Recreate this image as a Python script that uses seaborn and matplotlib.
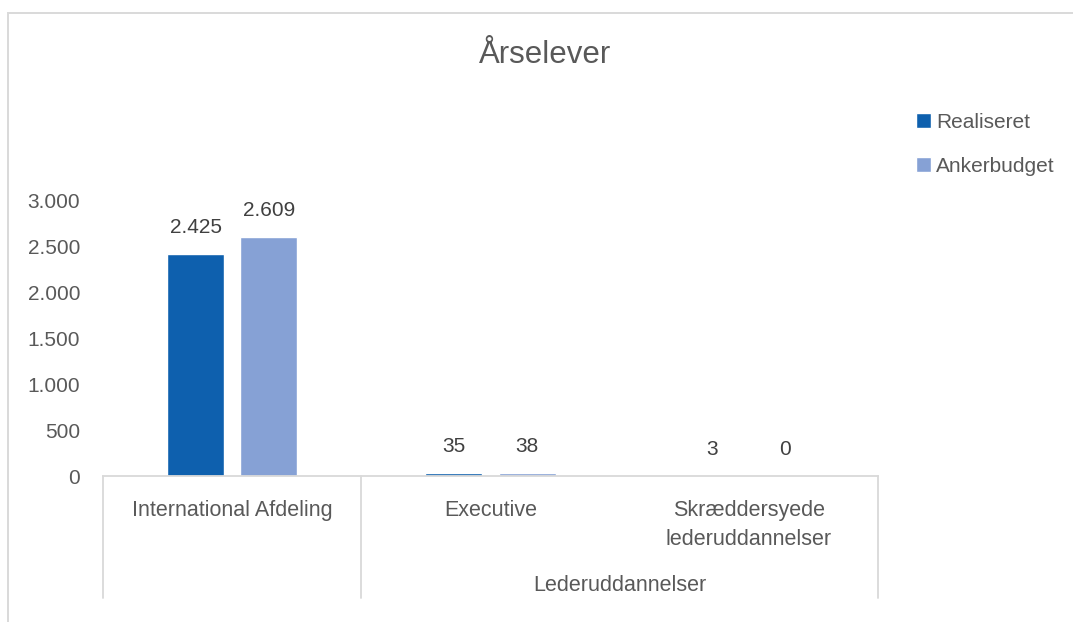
import matplotlib
matplotlib.use("Agg")
import matplotlib.pyplot as plt
import matplotlib.transforms as mtransforms
from matplotlib.patches import Rectangle
from matplotlib.ticker import FuncFormatter
import seaborn as sns
import pandas as pd

# ---------------- data ----------------
title = "Årselever"
categories = ["International Afdeling", "Executive", "Skræddersyede\nlederuddannelser"]
group_label = "Lederuddannelser"          # spans the last two categories
series = ["Realiseret", "Ankerbudget"]
realiseret = [2425, 35, 3]
ankerbudget = [2609, 38, 0]
y_ticks = [0, 500, 1000, 1500, 2000, 2500, 3000]
colors = ["#0E60AE", "#86A1D5"]

df = pd.DataFrame({
    "Kategori": categories * 2,
    "Serie": [series[0]] * len(categories) + [series[1]] * len(categories),
    "Værdi": realiseret + ankerbudget,
})


def dk(v):
    return f"{int(round(v)):,}".replace(",", ".")


sns.set_theme(style="white")
plt.rcParams["font.family"] = ["Liberation Sans", "DejaVu Sans"]

W, H = 1073, 622
GREY = "#595959"
LINE = "#D9D9D9"
fig = plt.figure(figsize=(W / 100, H / 100), dpi=100)
fig.patch.set_facecolor("white")

ax_h = 275
ax = fig.add_axes([103 / W, (H - 476) / H, 775 / W, ax_h / H])
sns.barplot(data=df, x="Kategori", y="Værdi", hue="Serie", order=categories,
            hue_order=series, palette=colors, saturation=1, width=0.566,
            gap=0.22, errorbar=None, ax=ax)

ax.set_xlim(-0.5, len(categories) - 0.5)
ax.set_ylim(0, 3000)
ax.set_yticks(y_ticks)
ax.yaxis.set_major_formatter(FuncFormatter(lambda v, _: dk(v)))
ax.tick_params(axis="y", length=0, pad=16.5, labelsize=15, labelcolor=GREY)
ax.set_xticks([])
ax.set_xlabel("")
ax.set_ylabel("")
for s in ["left", "top", "right"]:
    ax.spines[s].set_visible(False)
ax.spines["bottom"].set_color(LINE)
ax.spines["bottom"].set_linewidth(1.3)

# data labels
for cont in ax.containers:
    ax.bar_label(cont, labels=[dk(v) for v in cont.datavalues], padding=12,
                 fontsize=15, color="#404040")

# multi-level category axis
trans = mtransforms.blended_transform_factory(ax.transData, ax.transAxes)
for i, lab in enumerate(categories):
    for j, line in enumerate(lab.split("\n")):
        ax.text(i, -(516 - 476 + 29 * j) / ax_h, line, transform=trans,
                ha="center", va="baseline", fontsize=15.5, color=GREY)
ax.text((1 + len(categories) - 1) / 2, -(591 - 476) / ax_h, group_label,
        transform=trans, ha="center", va="baseline", fontsize=15.5, color=GREY)
for xv in [-0.5, 0.5, len(categories) - 0.5]:
    ax.plot([xv, xv], [0, -(598 - 476) / ax_h], transform=trans, color=LINE,
            lw=1.3, clip_on=False)

# legend
leg = ax.get_legend()
handles, labels = ax.get_legend_handles_labels()
if leg is not None:
    leg.remove()
fig.legend(handles, labels, loc="upper left", bbox_to_anchor=(897 / W, 1 - 94 / H),
           frameon=False, fontsize=15, labelspacing=1.2, handlelength=0.72,
           handleheight=0.72, handletextpad=0.25, labelcolor=GREY)

# title
fig.text(545 / W, 1 - 63 / H, title, ha="center", va="baseline", fontsize=22.5,
         color=GREY)

# chart border
fig.patches.append(Rectangle((8 / W, -0.2), 1.3, (1 - 12.5 / H) + 0.2,
                             transform=fig.transFigure, fill=False,
                             edgecolor=LINE, lw=1.4))

fig.savefig("out.png", dpi=100)
